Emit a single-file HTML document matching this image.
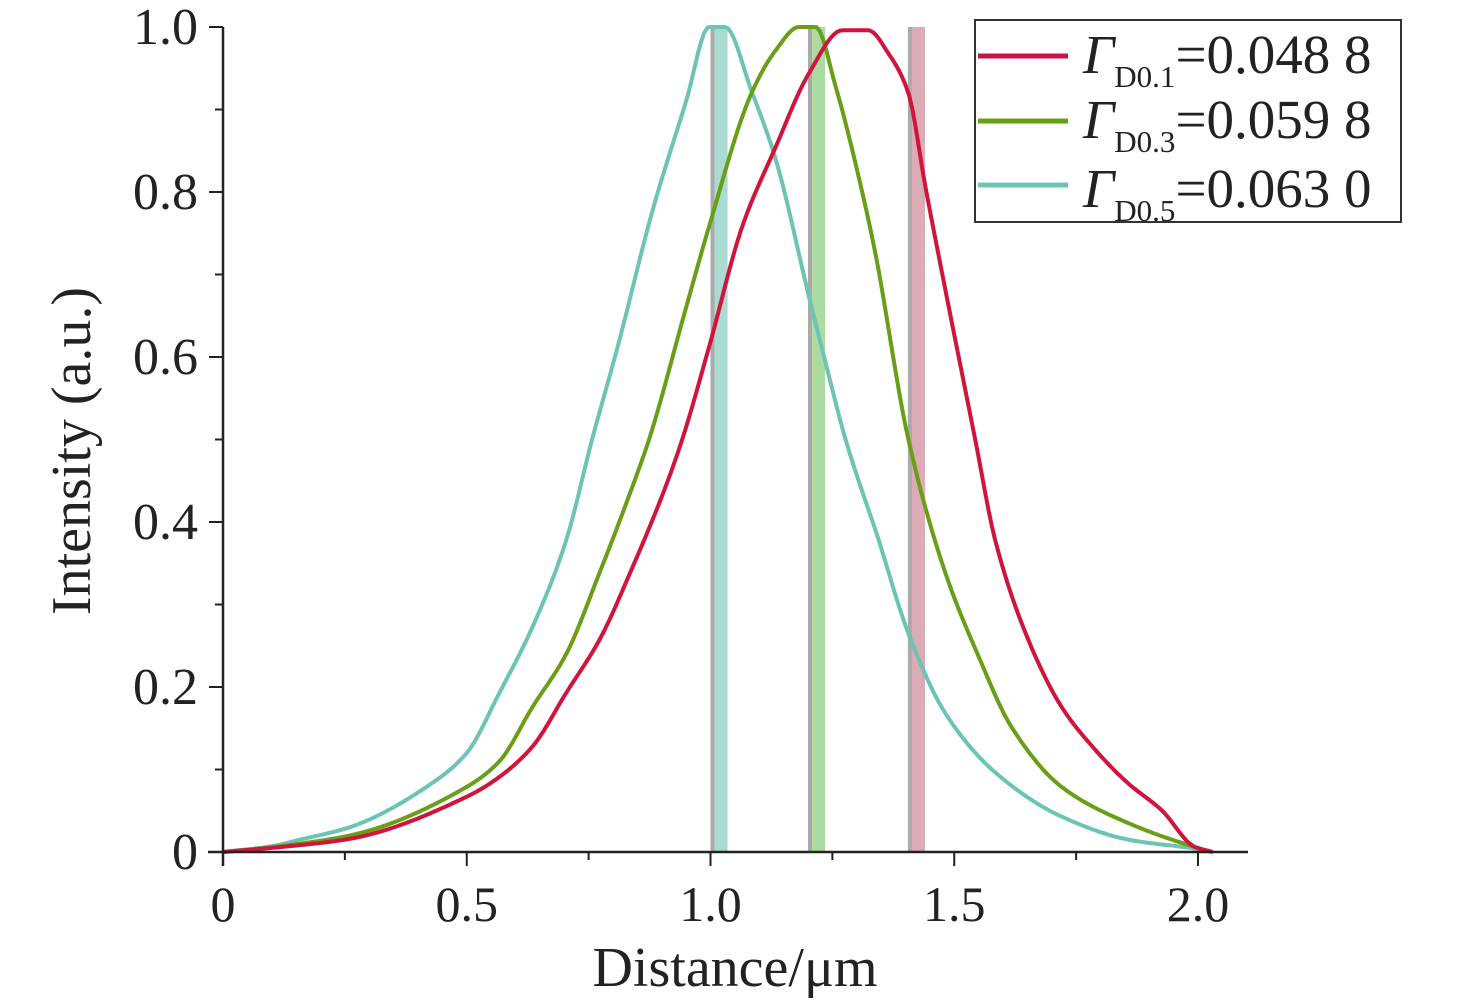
<!DOCTYPE html>
<html><head><meta charset="utf-8"><style>
html,body{margin:0;padding:0;background:#fff;}
svg{display:block;font-family:"Liberation Serif",serif;}
</style></head><body>
<svg id="chart" width="1476" height="1002" viewBox="0 0 1476 1002">
<g id="bars"></g>
<g id="curves"></g>
<g id="axes"></g>
<text x="735" y="986" font-size="56" text-anchor="middle" fill="#222">Distance/μm</text>
<text transform="translate(90,451) rotate(-90)" font-size="56" text-anchor="middle" fill="#222">Intensity (a.u.)</text>
<g>
<rect x="975" y="20" width="426" height="202" fill="#fff" stroke="#333" stroke-width="2"/>
<g>
<line x1="978" y1="56" x2="1068" y2="56" stroke="#c8144a" stroke-width="5"/>
<text x="1083" y="73" font-size="55" fill="#222"><tspan font-style="italic">Γ</tspan><tspan font-size="31" dy="14">D0.1</tspan><tspan dy="-14">=0.048 8</tspan></text>
</g>
<g>
<line x1="978" y1="121" x2="1068" y2="121" stroke="#6a9e18" stroke-width="5"/>
<text x="1083" y="138" font-size="55" fill="#222"><tspan font-style="italic">Γ</tspan><tspan font-size="31" dy="14">D0.3</tspan><tspan dy="-14">=0.059 8</tspan></text>
</g>
<g>
<line x1="978" y1="185" x2="1068" y2="185" stroke="#6cc4b4" stroke-width="5"/>
<text x="1083" y="207" font-size="55" fill="#222"><tspan font-style="italic">Γ</tspan><tspan font-size="31" dy="14">D0.5</tspan><tspan dy="-14">=0.063 0</tspan></text>
</g>
</g>
</svg>
<script>
const xRed=[0,0.1,0.26,0.5,0.567,0.635,0.704,0.772,0.84,0.908,0.942,0.997,1.065,1.134,1.202,1.27,1.324,1.365,1.406,1.441,1.474,1.543,1.584,1.652,1.72,1.789,1.857,1.925,1.994,2.03];
const yRed=[0,0.005,0.016,0.067,0.091,0.128,0.193,0.257,0.345,0.443,0.5,0.612,0.758,0.855,0.944,0.996,0.996,0.968,0.92,0.806,0.705,0.5,0.378,0.257,0.176,0.124,0.083,0.051,0.006,0];
const xGreen=[0,0.1,0.26,0.5,0.567,0.635,0.704,0.772,0.84,0.874,0.95,0.997,1.085,1.134,1.181,1.216,1.257,1.304,1.338,1.406,1.482,1.55,1.617,1.72,1.857,1.994,2.03];
const yGreen=[0,0.006,0.02,0.079,0.11,0.176,0.24,0.338,0.443,0.5,0.66,0.758,0.921,0.972,1.0,1.0,0.927,0.818,0.726,0.5,0.338,0.237,0.152,0.079,0.035,0.006,0];
const xCyan=[0,0.1,0.158,0.26,0.43,0.5,0.567,0.635,0.704,0.757,0.813,0.88,0.95,0.997,1.03,1.085,1.134,1.202,1.236,1.277,1.345,1.406,1.482,1.585,1.72,1.857,1.994,2.03];
const yCyan=[0,0.007,0.015,0.03,0.084,0.12,0.193,0.273,0.378,0.5,0.62,0.775,0.91,1.0,1.0,0.921,0.839,0.673,0.593,0.5,0.378,0.265,0.168,0.096,0.043,0.015,0.004,0];
const barStarts=[1.0,1.2,1.405];
const barEnds=[1.035,1.235,1.44];
const barColors=["#8ccfc3","#8fcf80","#d0909e"];
const xTicks=[0,0.5,1.0,1.5,2.0];
const xTickLabels=["0","0.5","1.0","1.5","2.0"];
const yTicks=[0,0.2,0.4,0.6,0.8,1.0];
const yTickLabels=["0","0.2","0.4","0.6","0.8","1.0"];

const X0=223,XS=487.5,Y0=852,YS=825;
const sx=v=>X0+v*XS, sy=v=>Y0-v*YS;
const NS="http://www.w3.org/2000/svg";
function mk(tag,attrs,parent){const e=document.createElementNS(NS,tag);for(const k in attrs)e.setAttribute(k,attrs[k]);parent.appendChild(e);return e;}
const bars=document.getElementById('bars'),curves=document.getElementById('curves'),axes=document.getElementById('axes');
barStarts.forEach((s,i)=>{
  const r=mk('rect',{x:sx(s),y:sy(1),width:sx(barEnds[i])-sx(s),height:sy(0)-sy(1),fill:barColors[i],opacity:0.75},bars);
  
  
  const l=mk('rect',{x:sx(s),y:sy(1),width:4,height:sy(0)-sy(1),fill:'#aaa'},bars);
  
  
});
function monotone(xs,ys){
  const n=xs.length,d=[],m=new Array(n);
  for(let i=0;i<n-1;i++)d.push((ys[i+1]-ys[i])/(xs[i+1]-xs[i]));
  m[0]=d[0];m[n-1]=d[n-2];
  for(let i=1;i<n-1;i++){
    if(d[i-1]*d[i]<=0)m[i]=0;
    else{const h0=xs[i]-xs[i-1],h1=xs[i+1]-xs[i];const w1=2*h1+h0,w2=h1+2*h0;m[i]=(w1+w2)/(w1/d[i-1]+w2/d[i]);}
  }
  const pts=[];
  const N=300,x0=xs[0],x1=xs[n-1];
  let k=0;
  for(let s=0;s<=N;s++){
    const x=x0+(x1-x0)*s/N;
    while(k<n-2&&x>xs[k+1])k++;
    const h=xs[k+1]-xs[k],t=(x-xs[k])/h;
    const t2=t*t,t3=t2*t;
    const y=(2*t3-3*t2+1)*ys[k]+(t3-2*t2+t)*h*m[k]+(-2*t3+3*t2)*ys[k+1]+(t3-t2)*h*m[k+1];
    pts.push([sx(x),sy(Math.max(0,Math.min(1,y)))]);
  }
  return pts.map((p,i)=>(i?'L':'M')+p[0].toFixed(1)+','+p[1].toFixed(1)).join(' ');
}
[[xCyan,yCyan,'#6cc4b4','curve-d05'],[xGreen,yGreen,'#6a9e18','curve-d03'],[xRed,yRed,'#d0143c','curve-d01']].forEach(c=>{
  const p=mk('path',{d:monotone(c[0],c[1]),fill:'none',stroke:c[2],'stroke-width':4,'stroke-linejoin':'round'},curves);
  
  
});
const xa=mk('line',{x1:208,y1:Y0,x2:1248,y2:Y0,stroke:'#222','stroke-width':2.5},axes);


const ya=mk('line',{x1:X0,y1:sy(1),x2:X0,y2:866,stroke:'#222','stroke-width':2.5},axes);


xTicks.forEach((v,i)=>{
  mk('line',{x1:sx(v),y1:Y0,x2:sx(v),y2:Y0+14,stroke:'#222','stroke-width':2},axes);
  if(i<xTicks.length-1) mk('line',{x1:sx(v+0.25),y1:Y0,x2:sx(v+0.25),y2:Y0+8,stroke:'#222','stroke-width':2},axes);
  const t=mk('text',{x:sx(v),y:921,'font-size':50,'text-anchor':'middle',fill:'#222'},axes);
  t.textContent=xTickLabels[i];
  
  
});
yTicks.forEach((v,i)=>{
  mk('line',{x1:X0-14,y1:sy(v),x2:X0,y2:sy(v),stroke:'#222','stroke-width':2},axes);
  if(i<yTicks.length-1) mk('line',{x1:X0-8,y1:sy(v+0.1),x2:X0,y2:sy(v+0.1),stroke:'#222','stroke-width':2},axes);
  const t=mk('text',{x:198,y:sy(v)+17,'font-size':52,'text-anchor':'end',fill:'#222'},axes);
  t.textContent=yTickLabels[i];
  
  
});
</script>
</body></html>
